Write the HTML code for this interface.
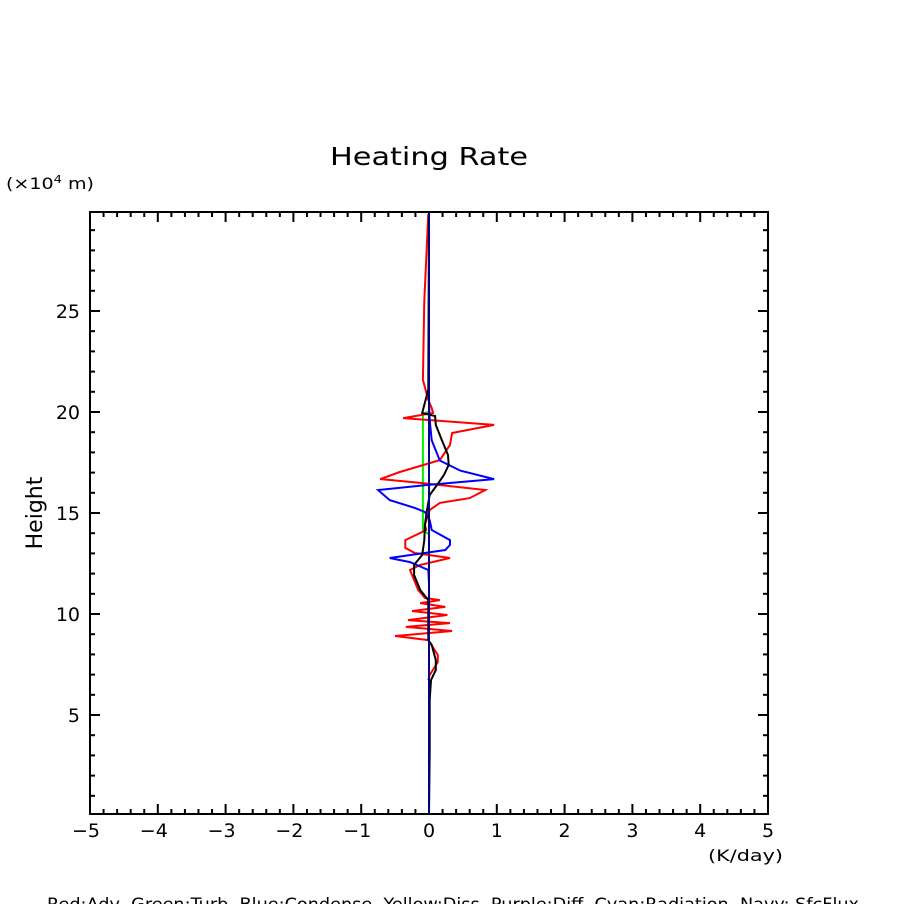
<!DOCTYPE html>
<html><head><meta charset="utf-8"><style>
body{margin:0;background:#fff}
svg text{font-family:"DejaVu Sans","Liberation Sans",sans-serif;fill:#000}
</style></head><body>
<svg id="chart" width="904" height="904" viewBox="0 0 904 904" xmlns="http://www.w3.org/2000/svg">
<text x="330" y="165" font-size="25" textLength="198" lengthAdjust="spacingAndGlyphs">Heating Rate</text>
<text x="6" y="189" font-size="16" textLength="88" lengthAdjust="spacingAndGlyphs">(×10<tspan font-size="11" dy="-6">4</tspan><tspan dy="6"> m)</tspan></text>
<text x="42" y="513" font-size="22" text-anchor="middle" transform="rotate(-90 42 513)">Height</text>
<text x="708" y="861" font-size="16" textLength="75" lengthAdjust="spacingAndGlyphs">(K/day)</text>
<text x="47" y="910" font-size="17" textLength="812" lengthAdjust="spacingAndGlyphs" xml:space="preserve">Red:Adv  Green:Turb  Blue:Condense  Yellow:Diss  Purple:Diff  Cyan:Radiation  Navy: SfcFlux</text>
<g id="ticks"></g>
<g id="series"></g>
<rect x="90" y="212" width="678" height="602" fill="none" stroke="#000" stroke-width="2"/>
</svg>
<script>
const xTicks=[-5,-4,-3,-2,-1,0,1,2,3,4,5];
const yTicks=[5,10,15,20,25];
const redX=[-0.01,-0.07,-0.09,-0.01,0.04,0.06,-0.38,0.96,0.34,0.31,0.16,-0.43,-0.72,-0.13,0.83,0.60,0.16,0.01,-0.06,-0.04,-0.35,-0.35,-0.21,0.31,-0.13,-0.28,-0.16,-0.06,0.16,-0.13,0.24,-0.25,0.27,-0.31,0.31,-0.34,0.34,-0.50,-0.01,0.13,0.13,0.01,-0.01];
const redH=[29.8,25.5,21.6,20.6,20.2,19.95,19.7,19.36,18.96,18.37,17.62,17.03,16.68,16.49,16.14,15.74,15.5,15.15,14.41,14.16,13.66,13.27,13.02,12.77,12.43,12.18,11.19,10.79,10.69,10.54,10.35,10.15,9.95,9.7,9.55,9.36,9.16,8.91,8.71,7.97,7.62,6.98,6.73];
const blueX=[0,0,0.01,0.04,0.16,0.46,0.96,-0.01,-0.75,-0.58,-0.21,-0.06,0.01,0.04,0.31,0.31,0.24,-0.58,-0.28,-0.01,0,0];
const blueH=[29.9,20.5,19.6,18.6,17.6,17.1,16.68,16.39,16.14,15.64,15.25,15.05,14.65,14.16,13.66,13.42,13.17,12.77,12.57,12.18,11.5,0.1];
const blackX=[0,-0.01,-0.07,-0.1,0.09,0.1,0.19,0.28,0.29,0.22,0.12,0.01,-0.03,-0.06,-0.07,-0.1,-0.22,-0.22,-0.13,-0.01,-0.01,0.04,0.1,0.1,0.03,0.01,0.01,0];
const blackH=[29.9,21.1,20.35,19.95,19.8,19.36,18.6,17.87,17.38,16.88,16.39,15.89,15.15,14.41,13.66,12.92,12.43,11.93,11.19,10.69,8.71,8.47,7.72,7.23,6.73,5.74,3.27,0.1];
const greenX=[-0.01,-0.09,-0.09,-0.01];
const greenH=[20.0,19.9,14.16,13.96];
const navyX=[0,0];
const navyH=[0.1,29.9];
const X0=90,X1=768,Y0=814,Y1=212,xmin=-5,xmax=5,hmin=0.1,hmax=29.9;
const sx=v=>X0+(v-xmin)/(xmax-xmin)*(X1-X0);
const sy=h=>Y0-(h-hmin)/(hmax-hmin)*(Y0-Y1);
const NS="http://www.w3.org/2000/svg";
const tg=document.getElementById('ticks');
function ln(g,x1,y1,x2,y2,c,w){const l=document.createElementNS(NS,'line');l.setAttribute('x1',x1);l.setAttribute('y1',y1);l.setAttribute('x2',x2);l.setAttribute('y2',y2);l.setAttribute('stroke',c);l.setAttribute('stroke-width',w);g.appendChild(l);return l;}
for(let v=-5;v<=5.001;v+=0.2){const x=sx(v);const maj=Math.abs(v-Math.round(v))<0.01;const L=maj?10:5;
const a=ln(tg,x,Y0,x,Y0-L,'#000',2);


const b=ln(tg,x,Y1,x,Y1+L,'#000',2);

}
for(let h=1;h<=29;h++){const y=sy(h);const L=h%5===0?10:5;
const a=ln(tg,X0,y,X0+L,y,'#000',2);


const b=ln(tg,X1,y,X1-L,y,'#000',2);

}
xTicks.forEach(v=>{const t=document.createElementNS(NS,'text');t.setAttribute('x',sx(v)-(v<0?4:0));t.setAttribute('y',837);t.setAttribute('font-size','19');t.setAttribute('text-anchor','middle');t.textContent=v<0?'\u2212'+(-v):String(v);


tg.appendChild(t);});
yTicks.forEach(h=>{const t=document.createElementNS(NS,'text');t.setAttribute('x',80);t.setAttribute('y',sy(h)+7);t.setAttribute('font-size','19');t.setAttribute('text-anchor','end');t.textContent=String(h);


tg.appendChild(t);});
const sg=document.getElementById('series');
function series(xs,hs,c,name){const p=document.createElementNS(NS,'polyline');p.setAttribute('points',xs.map((v,i)=>sx(v).toFixed(1)+','+sy(hs[i]).toFixed(1)).join(' '));p.setAttribute('fill','none');p.setAttribute('stroke',c);p.setAttribute('stroke-width','2');


sg.appendChild(p);}
series(greenX,greenH,'#00ee00','turb-line');
series(redX,redH,'#ff0000','adv-line');
series(blueX,blueH,'#0000ff','condense-line');
series(blackX,blackH,'#000000','total-line');
series(navyX,navyH,'#000080','sfcflux-line');
</script>
</body></html>
